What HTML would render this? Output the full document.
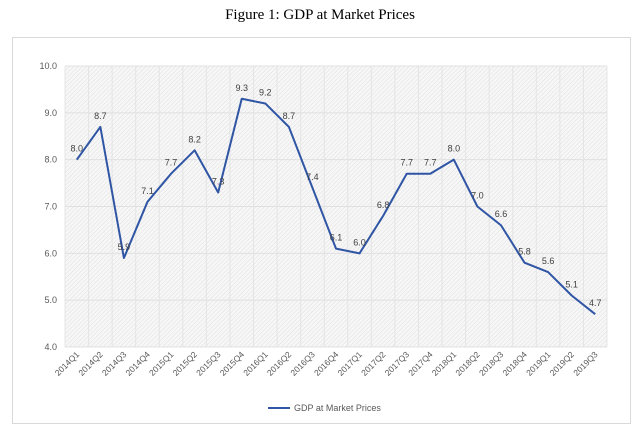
<!DOCTYPE html>
<html><head><meta charset="utf-8"><style>
body{margin:0;background:#fff;width:640px;height:433px;overflow:hidden}
svg{font-family:"Liberation Sans",sans-serif}
</style></head><body>
<svg width="640" height="433">
<defs><pattern id="hatch" width="3" height="3" patternUnits="userSpaceOnUse" patternTransform="rotate(45)"><rect width="3" height="3" fill="#f7f7f7"/><line x1="0" y1="0" x2="0" y2="3" stroke="#dedede" stroke-width="1"/></pattern></defs>
<text x="320" y="19" text-anchor="middle" font-family="Liberation Serif,serif" font-size="15" fill="#000">Figure 1: GDP at Market Prices</text>
<rect x="12.5" y="37.5" width="618" height="386" fill="#fff" stroke="#d9d9d9"/>
<rect x="65" y="66" width="542" height="281" fill="url(#hatch)"/>
<g id="grid"></g><g id="axes"></g><g id="series"></g>
<g><line x1="268" y1="408" x2="290" y2="408" stroke="#2f55a4" stroke-width="2"/><text x="294" y="411" font-size="9" fill="#595959">GDP at Market Prices</text></g>
</svg>
<script>
const categories=["2014Q1","2014Q2","2014Q3","2014Q4","2015Q1","2015Q2","2015Q3","2015Q4","2016Q1","2016Q2","2016Q3","2016Q4","2017Q1","2017Q2","2017Q3","2017Q4","2018Q1","2018Q2","2018Q3","2018Q4","2019Q1","2019Q2","2019Q3"];
const values=[8.0,8.7,5.9,7.1,7.7,8.2,7.3,9.3,9.2,8.7,7.4,6.1,6.0,6.8,7.7,7.7,8.0,7.0,6.6,5.8,5.6,5.1,4.7];
const yTicks=[4,5,6,7,8,9,10];
const L=65,R=607,T=66,B=347,ymin=4,ymax=10;
const step=(R-L)/categories.length;
const xs=i=>L+step*(i+0.5);
const ys=v=>B-(v-ymin)/(ymax-ymin)*(B-T);
const NS="http://www.w3.org/2000/svg";
function mk(t,a,p){const e=document.createElementNS(NS,t);for(const k in a)e.setAttribute(k,a[k]);p.appendChild(e);return e;}
const grid=document.getElementById('grid'),axes=document.getElementById('axes'),ser=document.getElementById('series');
yTicks.forEach(v=>{const l=mk('line',{x1:L,x2:R,y1:ys(v),y2:ys(v),stroke:'#e0e0e0'},grid);


const t=mk('text',{x:L-8,y:ys(v)+3,'text-anchor':'end','font-size':'9',fill:'#595959'},axes);t.textContent=v.toFixed(1);

});
for(let i=0;i<=categories.length;i++){const l=mk('line',{x1:L+step*i,x2:L+step*i,y1:T,y2:B,stroke:'#e4e4e4'},grid);

}
categories.forEach((c,i)=>{const x=xs(i)+3,y=B+8;const t=mk('text',{x:x,y:y,'text-anchor':'end','font-size':'8.5',fill:'#595959',transform:`rotate(-45 ${x} ${y})`},axes);t.textContent=c;

});
const p=mk('polyline',{points:values.map((v,i)=>xs(i)+','+ys(v)).join(' '),fill:'none',stroke:'#2f55a4','stroke-width':2,'stroke-linejoin':'round'},ser);


values.forEach((v,i)=>{const t=mk('text',{x:xs(i),y:ys(v)-8,'text-anchor':'middle','font-size':'9',fill:'#404040'},ser);t.textContent=v.toFixed(1);

});
</script>
</body></html>
